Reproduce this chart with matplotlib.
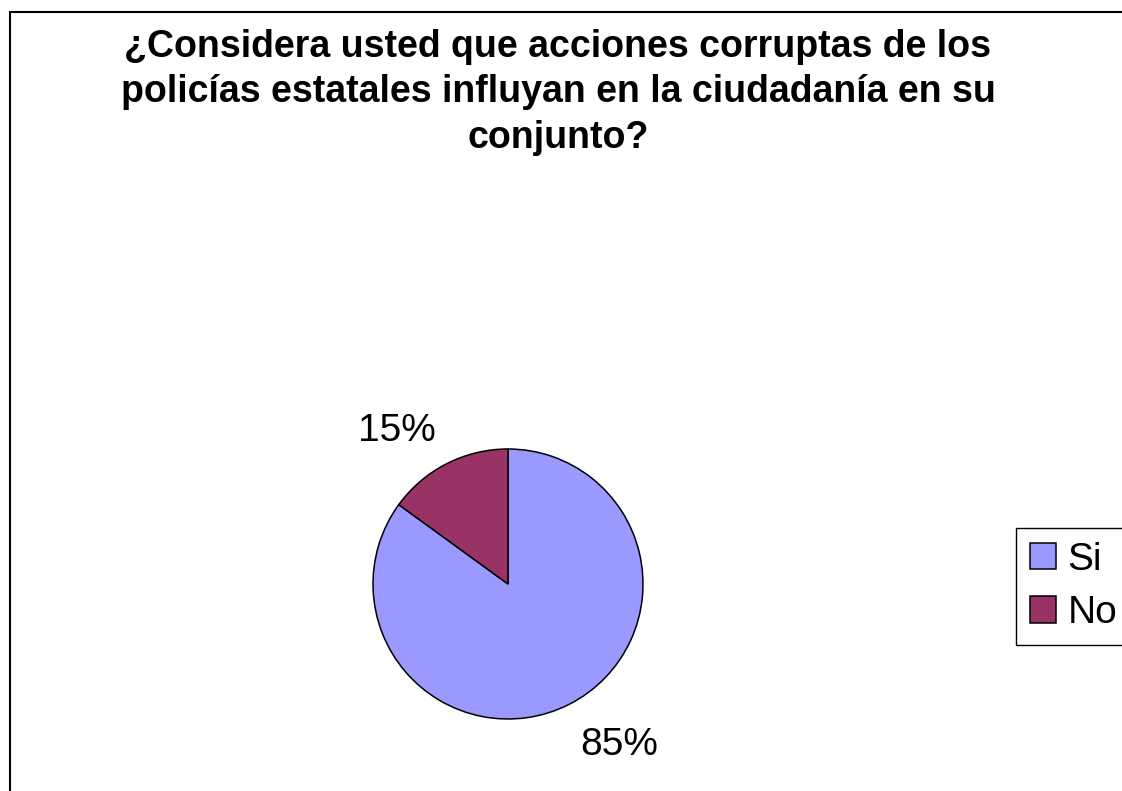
import matplotlib
matplotlib.use("Agg")
import matplotlib.pyplot as plt
from matplotlib.patches import Rectangle
import numpy as np

plt.rcParams['font.family'] = ['Liberation Sans', 'DejaVu Sans']

# donnees du graphique
categories = ["Si", "No"]
valeurs = [85, 15]
couleurs = ["#9999FF", "#993366"]
titre = ["¿Considera usted que acciones corruptas de los",
         "policías estatales influyan en la ciudadanía en su",
         "conjunto?"]

W, H = 1122, 791
fig = plt.figure(figsize=(W / 100, H / 100), dpi=100)

# cadre exterieur (coupe a droite et en bas)
fig.patches.append(Rectangle((10 / W, -0.05), 1.1, 1 - 12 / H + 0.05,
                             transform=fig.transFigure, fill=False,
                             edgecolor="black", linewidth=1.5))

# titre, ligne par ligne
for i, ligne in enumerate(titre):
    fig.text(558 / W, 1 - (57 + i * 45.5) / H, ligne, ha="center",
             va="baseline", fontsize=27, fontweight="bold")

# camembert
cx, cy, r = 508, 584, 135
ax = fig.add_axes([(cx - r) / W, (H - cy - r) / H, 2 * r / W, 2 * r / H])
wedges, _, autotexts = ax.pie(valeurs, colors=couleurs, startangle=90,
                              counterclock=False, autopct="%1.0f%%",
                              pctdistance=1.185,
                              wedgeprops=dict(edgecolor="black", linewidth=1.1),
                              textprops=dict(fontsize=28))
for t in autotexts:
    x, y = t.get_position()
    t.set_ha("left" if x > 0 else "right")
    t.set_va("baseline" if y > 0 else "top")
ax.set_xlim(-1, 1)
ax.set_ylim(-1, 1)
ax.axis("off")

leg = fig.legend(wedges, categories, loc="upper left",
                 bbox_to_anchor=(1016 / W, 1 - 528 / H), borderaxespad=0,
                 fontsize=28, handlelength=0.67, handleheight=0.67,
                 handletextpad=0.3, labelspacing=0.45, borderpad=0.35,
                 fancybox=False, edgecolor="black", framealpha=1)
leg.get_frame().set_linewidth(1.0)

fig.savefig("out.png", dpi=100)
